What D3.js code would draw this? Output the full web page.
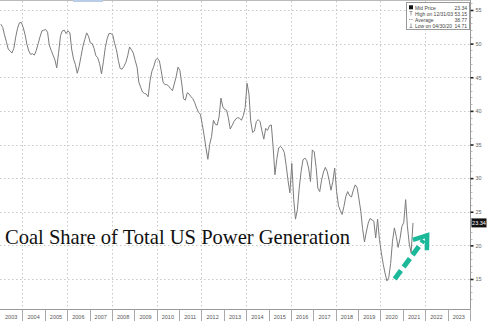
<!DOCTYPE html>
<html>
<head>
<meta charset="utf-8">
<script src="https://cdn.jsdelivr.net/npm/d3@7"></script>
<style>
  html, body { margin: 0; padding: 0; background: #fff; }
  svg { display: block; }
</style>
</head>
<body>
<svg id="chart" width="500" height="321"></svg>
<script>
// ---------------- DATA ----------------
const startYear = 2003;            // first month: Jan 2003, monthly
const coalShare = [
  // 2003
  52.9, 52.4, 51.3, 50.3, 49.2, 48.9, 48.6, 49.3, 51.0, 52.3, 53.1, 53.15,
  // 2004
  52.4, 51.3, 49.9, 48.9, 48.4, 48.5, 48.3, 49.0, 50.0, 51.0, 51.9, 52.0,
  // 2005
  52.1, 51.7, 49.8, 49.0, 48.3, 47.6, 46.4, 48.7, 51.2, 51.9, 52.0, 51.5,
  // 2006
  51.9, 51.6, 49.2, 47.7, 46.9, 45.6, 46.6, 48.1, 49.6, 50.6, 51.6, 51.1,
  // 2007
  50.1, 50.0, 49.3, 48.2, 47.9, 47.0, 45.5, 47.3, 49.4, 50.7, 51.5, 51.5,
  // 2008
  51.3, 50.0, 49.1, 47.5, 46.3, 46.2, 46.6, 47.2, 48.2, 49.5, 49.1, 48.6,
  // 2009
  47.5, 46.5, 44.3, 43.5, 42.8, 42.6, 42.5, 42.1, 44.5, 45.9, 46.6, 47.6,
  // 2010
  47.8, 47.4, 46.0, 44.3, 43.9, 43.9, 43.7, 43.3, 43.0, 44.0, 45.1, 46.5,
  // 2011
  46.0, 44.0, 41.8, 41.6, 42.7, 42.5, 42.1, 41.8, 41.2, 40.4, 39.8, 39.5,
  // 2012
  38.0, 36.3, 34.5, 32.8, 35.0, 36.2, 38.6, 38.0, 37.9, 39.1, 41.9, 40.6,
  // 2013
  40.2, 40.1, 39.0, 37.3, 37.8, 38.4, 38.8, 39.0, 38.9, 38.6, 39.3, 40.5,
  // 2014
  44.1, 42.5, 38.5, 36.8, 37.0, 38.4, 38.7, 38.4, 37.0, 35.8, 37.4, 37.1,
  // 2015
  37.8, 37.9, 34.8, 30.5, 32.8, 34.5, 34.7, 34.4, 33.8, 31.9, 29.6, 27.8,
  // 2016
  32.2, 26.8, 23.9, 25.3, 28.5, 31.0, 32.7, 33.0, 32.6, 31.5, 29.5, 34.2,
  // 2017
  33.9, 31.6, 28.5, 28.0, 29.7, 30.9, 31.6, 31.0, 29.7, 28.2, 29.5, 31.5,
  // 2018
  28.0, 25.9, 25.2, 24.6, 25.8, 27.3, 28.0, 27.4, 27.2, 28.2, 29.0, 28.6,
  // 2019
  26.9, 25.0, 22.5, 20.5, 22.0, 23.3, 24.0, 23.8, 23.6, 21.1, 23.9, 20.9,
  // 2020
  18.9, 17.2, 15.9, 14.71, 15.2, 17.3, 20.6, 22.6, 21.3, 19.7, 21.0, 22.8,
  // 2021
  23.4, 26.8, 22.9, 20.2, 18.9, 23.34
];
const yearLabels = d3.range(2003, 2024).map(String);
const yTicks = [15, 20, 25, 30, 35, 40, 45, 50, 55];
const gridYears = [2004, 2006, 2008, 2010, 2012, 2014, 2016, 2018, 2020, 2022];
const legendLabels = ["Mid Price", "High on 12/31/03", "Average", "Low on 04/30/20"];
const legendValues = ["23.34", "53.15", "38.77", "14.71"];
const lastValue = "23.34";
const titleText = "Coal Share of Total US Power Generation";
// arrow annotation endpoints in data space
const arrowStart = { date: new Date(2020, 7, 20), value: 15.0 };
const arrowTip   = { date: new Date(2022, 1, 1), value: 21.5 };

// ---------------- SCALES ----------------
const W = 500, H = 321;
const plotRight = 470.5, plotBottom = 309.5;
const x = d3.scaleTime()
  .domain([new Date(2003, 0, 1), new Date(2024, 0, 1)])
  .range([0, 470]);
const y = d3.scaleLinear().domain([15, 55]).range([279, 10]);

const data = coalShare.map((v, i) => ({
  date: new Date(startYear, i, 15),
  value: v
}));

const svg = d3.select("#chart");

// top frame line + scroll highlight
svg.append("line").attr("x1", 0).attr("x2", plotRight).attr("y1", 0.5).attr("y2", 0.5)
  .attr("stroke", "#bbb").attr("stroke-width", 1);
svg.append("rect").attr("x", 73).attr("y", 0).attr("width", 30).attr("height", 2)
  .attr("fill", "#b9cde6");

// ---------------- GRID ----------------
const grid = svg.append("g");
grid.selectAll("line.hg").data(yTicks).join("line")
  .attr("class", "hg")
  .attr("x1", 0).attr("x2", plotRight)
  .attr("y1", d => Math.round(y(d)) + 0.5).attr("y2", d => Math.round(y(d)) + 0.5)
  .attr("stroke", "#c8c8c8").attr("stroke-dasharray", "1.5,2.5").attr("stroke-width", 1);
grid.selectAll("line.vg").data(gridYears).join("line")
  .attr("class", "vg")
  .attr("x1", d => Math.round(x(new Date(d, 0, 1))) + 0.5)
  .attr("x2", d => Math.round(x(new Date(d, 0, 1))) + 0.5)
  .attr("y1", 1).attr("y2", plotBottom)
  .attr("stroke", "#c8c8c8").attr("stroke-dasharray", "1.5,2.5").attr("stroke-width", 1);

// ---------------- AXES ----------------
// right axis
svg.append("line").attr("x1", plotRight).attr("x2", plotRight).attr("y1", 0).attr("y2", plotBottom)
  .attr("stroke", "#999").attr("stroke-width", 1);
const minor = d3.range(12, 57, 1).filter(v => v % 5 !== 0);
svg.selectAll("line.minor").data(minor).join("line")
  .attr("class", "minor")
  .attr("x1", plotRight).attr("x2", plotRight + 2)
  .attr("y1", d => Math.round(y(d)) + 0.5).attr("y2", d => Math.round(y(d)) + 0.5)
  .attr("stroke", "#aaa").attr("stroke-width", 0.8);
const yAxis = svg.append("g").attr("transform", `translate(${plotRight},0)`)
  .call(d3.axisRight(y).tickValues(yTicks).tickSize(3).tickPadding(2).tickFormat(d3.format("d")));
yAxis.select(".domain").remove();
yAxis.selectAll(".tick line").attr("stroke", "#222").attr("stroke-width", 1.6);
yAxis.selectAll(".tick text").attr("fill", "#666")
  .style("font-family", "'Liberation Sans', Arial, sans-serif").style("font-size", "5.5px");

// bottom axis
svg.append("line").attr("x1", 0).attr("x2", plotRight).attr("y1", plotBottom).attr("y2", plotBottom)
  .attr("stroke", "#999").attr("stroke-width", 1);
const years = yearLabels.map(Number);
svg.selectAll("line.ysep").data(years.slice(1).concat([2024])).join("line")
  .attr("class", "ysep")
  .attr("x1", d => Math.round(x(new Date(d, 0, 1))) + 0.5)
  .attr("x2", d => Math.round(x(new Date(d, 0, 1))) + 0.5)
  .attr("y1", plotBottom).attr("y2", H)
  .attr("stroke", "#aaa").attr("stroke-width", 1);
svg.selectAll("text.ylab").data(yearLabels).join("text")
  .attr("class", "ylab")
  .attr("x", d => (x(new Date(+d, 0, 1)) + x(new Date(+d + 1, 0, 1))) / 2)
  .attr("y", 319)
  .attr("text-anchor", "middle")
  .attr("fill", "#555")
  .style("font-family", "'Liberation Sans', Arial, sans-serif").style("font-size", "5.5px")
  .text(d => d);

// ---------------- LINE ----------------
const line = d3.line().x(d => x(d.date)).y(d => y(d.value)).curve(d3.curveLinear);
svg.append("path").datum(data)
  .attr("d", line)
  .attr("fill", "none")
  .attr("stroke", "#7c7c7c")
  .attr("stroke-width", 1)
  .attr("stroke-linejoin", "round");

// last value tag
const lastY = y(coalShare[coalShare.length - 1]);
svg.append("rect").attr("x", plotRight + 1).attr("y", lastY - 4.5).attr("width", 15).attr("height", 9)
  .attr("fill", "#111");
svg.append("text").attr("x", plotRight + 8.5).attr("y", lastY + 2)
  .attr("text-anchor", "middle").attr("fill", "#fff")
  .style("font-family", "'Liberation Sans', Arial, sans-serif").style("font-size", "5.5px")
  .text(lastValue);

// ---------------- LEGEND ----------------
const lg = svg.append("g").attr("transform", "translate(406,2)");
lg.append("rect").attr("x", 0.5).attr("y", 0.5).attr("width", 63).attr("height", 27)
  .attr("fill", "#fff").attr("stroke", "#999").attr("stroke-width", 1);
const rowY = [6.5, 12.5, 18.5, 24.5];
legendLabels.forEach((lab, i) => {
  const ry = rowY[i];
  const g = lg.append("g");
  if (i === 0) {
    g.append("rect").attr("x", 3).attr("y", ry - 3.2).attr("width", 4).attr("height", 4).attr("fill", "#111");
  } else if (i === 1) {
    g.append("line").attr("x1", 3.5).attr("x2", 6.5).attr("y1", ry - 3).attr("y2", ry - 3).attr("stroke", "#777").attr("stroke-width", 0.7);
    g.append("line").attr("x1", 5).attr("x2", 5).attr("y1", ry - 3).attr("y2", ry + 1).attr("stroke", "#777").attr("stroke-width", 0.7);
  } else if (i === 2) {
    g.append("line").attr("x1", 3).attr("x2", 7).attr("y1", ry - 1).attr("y2", ry - 1).attr("stroke", "#777").attr("stroke-width", 0.7).attr("stroke-dasharray", "1,0.7");
  } else {
    g.append("line").attr("x1", 3.5).attr("x2", 6.5).attr("y1", ry + 1).attr("y2", ry + 1).attr("stroke", "#777").attr("stroke-width", 0.7);
    g.append("line").attr("x1", 5).attr("x2", 5).attr("y1", ry - 3).attr("y2", ry + 1).attr("stroke", "#777").attr("stroke-width", 0.7);
  }
  g.append("text").attr("x", 9).attr("y", ry + 1).attr("fill", "#444")
    .style("font-family", "'Liberation Sans', Arial, sans-serif").style("font-size", "5px")
    .text(lab);
  g.append("text").attr("x", 61).attr("y", ry + 1).attr("text-anchor", "end").attr("fill", "#444")
    .style("font-family", "'Liberation Sans', Arial, sans-serif").style("font-size", "5px")
    .text(legendValues[i]);
});

// ---------------- TITLE ----------------
svg.append("text")
  .attr("x", 5).attr("y", 244)
  .attr("fill", "#111")
  .attr("textLength", 345).attr("lengthAdjust", "spacingAndGlyphs")
  .style("font-family", "'Liberation Serif', 'Times New Roman', serif")
  .style("font-size", "21px")
  .text(titleText);

// ---------------- ARROW ----------------
const ax0 = x(arrowStart.date), ay0 = y(arrowStart.value);
const ax1 = x(arrowTip.date), ay1 = y(arrowTip.value);
const ang = Math.atan2(ay1 - ay0, ax1 - ax0);
const shaftEnd = [ax1 - 6 * Math.cos(ang), ay1 - 6 * Math.sin(ang)];
const teal = "#1bb99a";
svg.append("line")
  .attr("x1", ax0).attr("y1", ay0).attr("x2", shaftEnd[0]).attr("y2", shaftEnd[1])
  .attr("stroke", teal).attr("stroke-width", 5).attr("stroke-dasharray", "10.5,4.5");
const headLen = 15, spread = 0.62;
const p1 = [ax1 - headLen * Math.cos(ang - spread), ay1 - headLen * Math.sin(ang - spread)];
const p2 = [ax1 - headLen * Math.cos(ang + spread), ay1 - headLen * Math.sin(ang + spread)];
svg.append("path")
  .attr("d", `M${p1[0]},${p1[1]}L${ax1},${ay1}L${p2[0]},${p2[1]}`)
  .attr("fill", "none").attr("stroke", teal).attr("stroke-width", 4.5)
  .attr("stroke-linejoin", "miter");
</script>
</body>
</html>
